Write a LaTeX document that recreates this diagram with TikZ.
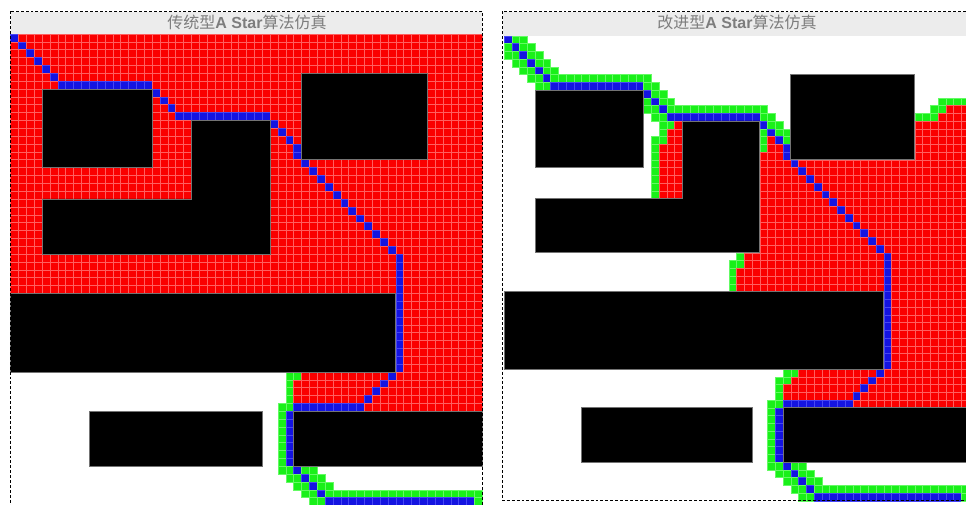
\documentclass[tikz,border=0pt]{standalone}
\usepackage{fontspec}
\newfontfamily\cjk{Noto Sans CJK SC}
\newfontfamily\latn{Liberation Sans}
\definecolor{cellred}{RGB}{250,0,0}
\definecolor{cellredline}{RGB}{255,95,95}
\definecolor{cellgreen}{RGB}{25,240,25}
\definecolor{cellgreenline}{RGB}{100,250,100}
\definecolor{cellblue}{RGB}{20,20,225}
\definecolor{cellblueline}{RGB}{70,70,245}
\definecolor{titlebg}{RGB}{236,236,236}
\definecolor{titlefg}{RGB}{125,125,125}
% grid cell storage: 0 free, 1 obstacle, 2 closed (red), 3 path (blue), 4 open (green)
\newcommand\cellset[4]{\expandafter\xdef\csname gc#1:\number#2:\number#3\endcsname{#4}}
\newcommand\cellget[3]{\ifcsname gc#1:\number#2:\number#3\endcsname\csname gc#1:\number#2:\number#3\endcsname\else0\fi}
\newcommand\setrun[5]{\foreach \cc in {#3,...,#4}{\cellset{#1}{\cc}{#2}{#5}}}
\newcommand\setblock[6]{\foreach \rr in {#4,...,#5}{\setrun{#1}{\rr}{#2}{#3}{#6}}}
\newcommand\setobstacles[1]{%
  \setblock{#1}{4}{17}{7}{16}{1}%
  \setblock{#1}{37}{52}{5}{15}{1}%
  \setblock{#1}{23}{32}{11}{20}{1}%
  \setblock{#1}{4}{32}{21}{27}{1}%
  \setblock{#1}{0}{48}{33}{42}{1}%
  \setblock{#1}{10}{31}{48}{54}{1}%
  \setblock{#1}{36}{59}{48}{54}{1}}
\newcommand\setpathcells[1]{%
  \foreach \k in {0,...,5}{\cellset{#1}{\k}{\k}{3}}%
  \setrun{#1}{6}{6}{17}{3}%
  \cellset{#1}{18}{7}{3}\cellset{#1}{19}{8}{3}\cellset{#1}{20}{9}{3}%
  \setrun{#1}{10}{21}{32}{3}%
  \cellset{#1}{33}{11}{3}\cellset{#1}{34}{12}{3}\cellset{#1}{35}{13}{3}%
  \cellset{#1}{36}{14}{3}\cellset{#1}{36}{15}{3}%
  \foreach \k in {0,...,12}{\cellset{#1}{\numexpr37+\k\relax}{\numexpr16+\k\relax}{3}}%
  \setblock{#1}{49}{49}{29}{42}{3}%
  \cellset{#1}{48}{43}{3}\cellset{#1}{47}{44}{3}\cellset{#1}{46}{45}{3}\cellset{#1}{45}{46}{3}%
  \setrun{#1}{47}{36}{44}{3}%
  \setblock{#1}{35}{35}{48}{54}{3}%
  \cellset{#1}{36}{55}{3}\cellset{#1}{37}{56}{3}\cellset{#1}{38}{57}{3}\cellset{#1}{39}{58}{3}%
  \setrun{#1}{59}{40}{58}{3}}
\newcommand\nbclosed[3]{\ifcase\cellget{#1}{#2}{#3}\relax\or\or\gdef\isg{1}\or\gdef\isg{1}\fi}
\newcommand\setgreen[1]{%
  \foreach \y in {0,...,59}{\foreach \x in {0,...,59}{%
    \ifnum\cellget{#1}{\x}{\y}=0
      \gdef\isg{0}%
      \nbclosed{#1}{\numexpr\x-1\relax}{\numexpr\y-1\relax}%
      \nbclosed{#1}{\x}{\numexpr\y-1\relax}%
      \nbclosed{#1}{\numexpr\x+1\relax}{\numexpr\y-1\relax}%
      \nbclosed{#1}{\numexpr\x-1\relax}{\y}%
      \nbclosed{#1}{\numexpr\x+1\relax}{\y}%
      \nbclosed{#1}{\numexpr\x-1\relax}{\numexpr\y+1\relax}%
      \nbclosed{#1}{\x}{\numexpr\y+1\relax}%
      \nbclosed{#1}{\numexpr\x+1\relax}{\numexpr\y+1\relax}%
      \ifnum\isg=1 \cellset{#1}{\x}{\y}{4}\fi
    \fi}}}
\newcommand\drawcells[1]{%
  \foreach \y in {0,...,59}{\foreach \x in {0,...,59}{%
    \ifcase\cellget{#1}{\x}{\y}\relax
    \or
    \or \path[redcell] (\x,\y) rectangle ++(1,1);
    \or \path[bluecell] (\x,\y) rectangle ++(1,1);
    \or \path[greencell] (\x,\y) rectangle ++(1,1);
    \fi}}}
\newcommand\drawobstacles{%
  \path[obst] (4,7) rectangle (18,17);
  \path[obst] (37,5) rectangle (53,16);
  \path[obst] (23,11) -- (33,11) -- (33,28) -- (4,28) -- (4,21) -- (23,21) -- cycle;
  \path[obst] (0,33) rectangle (49,43);
  \path[obst] (10,48) rectangle (32,55);
  \path[obst] (36,48) rectangle (60,55);}
\tikzset{
  redcell/.style={fill=cellred, draw=cellredline, line width=0.25pt},
  bluecell/.style={fill=cellblue, draw=cellblueline, line width=0.25pt},
  greencell/.style={fill=cellgreen, draw=cellgreenline, line width=0.25pt},
  obst/.style={fill=black, draw=black!55, line width=0.5pt},
  panelborder/.style={draw=black, line width=0.7pt, dash pattern=on 2.2pt off 1.5pt},
  titlebar/.style={fill=titlebg, draw=none},
  titletext/.style={text=titlefg, font=\fontsize{12}{14}\selectfont, inner sep=0pt}
}
\begin{document}
\begin{tikzpicture}[x=0.75pt, y=-0.75pt]
\useasboundingbox (0,0) rectangle (966,505);
\clip (0,0) rectangle (966,505);
% ---- set up grids ----
\setblock{L}{0}{59}{0}{32}{2}
\setblock{L}{49}{59}{33}{42}{2}
\setrun{L}{43}{37}{59}{2}
\setblock{L}{36}{59}{44}{47}{2}
\setobstacles{L}
\setpathcells{L}
\setgreen{L}
%
\setrun{R}{9}{57}{59}{2}
\setrun{R}{10}{56}{59}{2}
\setblock{R}{53}{59}{11}{15}{2}
\cellset{R}{22}{11}{2}
\setblock{R}{21}{22}{12}{13}{2}
\setblock{R}{20}{22}{14}{20}{2}
\cellset{R}{34}{13}{2}
\setrun{R}{14}{34}{35}{2}
\setrun{R}{15}{33}{35}{2}
\setblock{R}{33}{59}{16}{27}{2}
\setblock{R}{31}{59}{28}{29}{2}
\setblock{R}{30}{59}{30}{32}{2}
\setblock{R}{50}{59}{33}{42}{2}
\setrun{R}{43}{38}{59}{2}
\setrun{R}{44}{37}{59}{2}
\setblock{R}{36}{59}{45}{47}{2}
\setobstacles{R}
\setpathcells{R}
\setgreen{R}
% ---- left panel ----
\path[titlebar] (11,12) rectangle (482,33.9);
\node[titletext] (titleL) at (247,22.5) {{\cjk 传统型}{\latn\bfseries A Star}{\cjk 算法仿真}};
\begin{scope}[shift={(10.6,33.9)}, scale=7.86]
  \drawcells{L}
  \drawobstacles
\end{scope}
\draw[panelborder] (10,11.5) rectangle (482.5,530);
% ---- right panel ----
\path[titlebar] (503,12) rectangle (966,35.75);
\node[titletext] (titleR) at (737,22.5) {{\cjk 改进型}{\latn\bfseries A Star}{\cjk 算法仿真}};
\begin{scope}[shift={(504,35.75)}, scale=7.75]
  \drawcells{R}
  \drawobstacles
\end{scope}
\draw[panelborder] (502.7,11.5) rectangle (990,500.8);
\end{tikzpicture}
\end{document}
